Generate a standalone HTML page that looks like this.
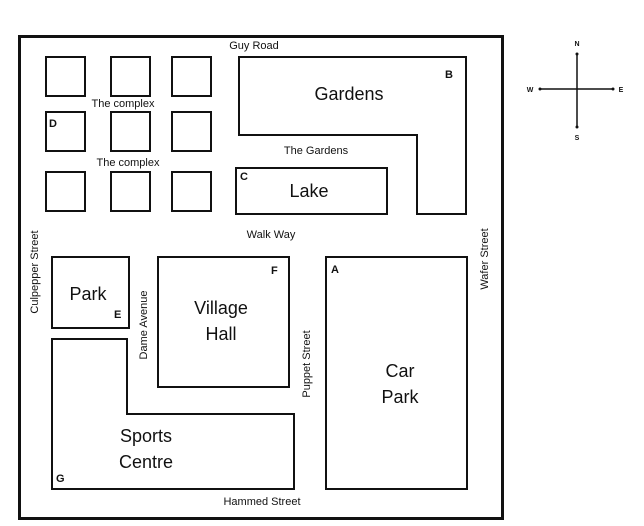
<!DOCTYPE html>
<html><head><meta charset="utf-8"><style>
html,body{margin:0;padding:0;background:#fff;width:644px;height:526px;overflow:hidden}
text{font-family:"Liberation Sans",sans-serif;fill:#111}
</style></head><body>
<svg width="644" height="526" viewBox="0 0 644 526" xmlns="http://www.w3.org/2000/svg">
<g fill="none" stroke="#111">
<rect x="19.5" y="36.5" width="483" height="482" stroke-width="3"/>
<g stroke-width="2">
<rect x="46" y="57" width="39" height="39"/><rect x="111" y="57" width="39" height="39"/><rect x="172" y="57" width="39" height="39"/>
<rect x="46" y="112" width="39" height="39"/><rect x="111" y="112" width="39" height="39"/><rect x="172" y="112" width="39" height="39"/>
<rect x="46" y="172" width="39" height="39"/><rect x="111" y="172" width="39" height="39"/><rect x="172" y="172" width="39" height="39"/>
<path d="M239 57H466V214H417V135H239Z"/>
<rect x="236" y="168" width="151" height="46"/>
<rect x="52" y="257" width="77" height="71"/>
<rect x="158" y="257" width="131" height="130"/>
<rect x="326" y="257" width="141" height="232"/>
<path d="M52 339H127V414H294V489H52Z"/>
</g>
<g stroke-width="1.5"><line x1="577" y1="54" x2="577" y2="127"/><line x1="540" y1="89" x2="613" y2="89"/></g>
</g>
<g fill="#111"><circle cx="577" cy="54" r="1.5"/><circle cx="577" cy="127" r="1.5"/><circle cx="540" cy="89" r="1.5"/><circle cx="613" cy="89" r="1.5"/></g>
<g font-size="7" font-weight="bold" text-anchor="middle">
<text x="577" y="46">N</text><text x="577" y="140">S</text><text x="530" y="92">W</text><text x="621" y="92">E</text>
</g>
<g font-size="11" text-anchor="middle">
<text x="254" y="49">Guy Road</text>
<text x="123" y="107">The complex</text>
<text x="128" y="166">The complex</text>
<text x="316" y="154">The Gardens</text>
<text x="271" y="238">Walk Way</text>
<text x="262" y="505">Hammed Street</text>
<text transform="translate(38,272) rotate(-90)">Culpepper Street</text>
<text transform="translate(147,325) rotate(-90)">Dame Avenue</text>
<text transform="translate(310,364) rotate(-90)">Puppet Street</text>
<text transform="translate(488,259) rotate(-90)">Wafer Street</text>
</g>
<g font-size="18" text-anchor="middle">
<text x="349" y="100">Gardens</text>
<text x="309" y="197">Lake</text>
<text x="88" y="300">Park</text>
<text x="221" y="314">Village</text><text x="221" y="340">Hall</text>
<text x="400" y="377">Car</text><text x="400" y="403">Park</text>
<text x="146" y="442">Sports</text><text x="146" y="468">Centre</text>
</g>
<g font-size="11" font-weight="bold">
<text x="445" y="78">B</text><text x="49" y="127">D</text><text x="240" y="180">C</text>
<text x="271" y="274">F</text><text x="331" y="273">A</text><text x="114" y="318">E</text><text x="56" y="482">G</text>
</g>
</svg>
</body></html>
